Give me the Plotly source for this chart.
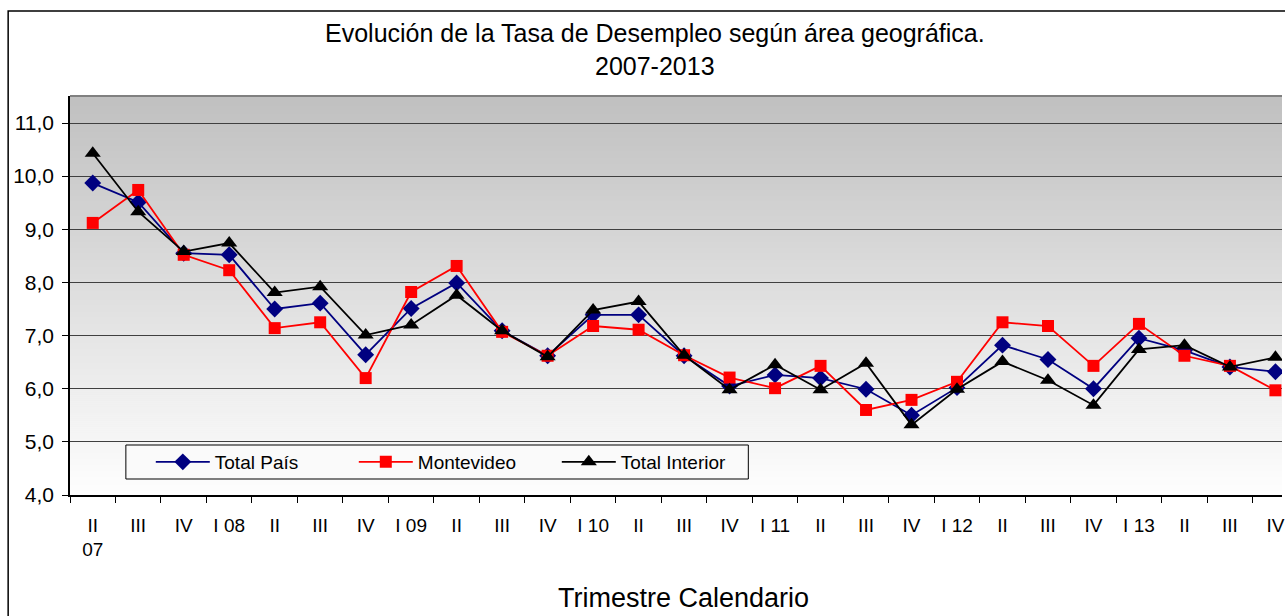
import plotly.graph_objects as go

categories = ["II<br>07", "III", "IV", "I 08", "II", "III", "IV", "I 09", "II", "III", "IV",
              "I 10", "II", "III", "IV", "I 11", "II", "III", "IV", "I 12", "II", "III", "IV",
              "I 13", "II", "III", "IV"]
cat_ids = list(range(len(categories)))

total_pais = [9.87, 9.51, 8.55, 8.52, 7.50, 7.61, 6.64, 7.51, 7.99, 7.09, 6.62, 7.39, 7.39, 6.62,
              6.05, 6.26, 6.20, 5.99, 5.50, 6.02, 6.82, 6.55, 6.00, 6.95, 6.72, 6.41, 6.32]
montevideo = [9.12, 9.74, 8.52, 8.23, 7.14, 7.25, 6.20, 7.82, 8.31, 7.07, 6.62, 7.18, 7.11, 6.63,
              6.21, 6.01, 6.43, 5.60, 5.79, 6.13, 7.25, 7.18, 6.43, 7.22, 6.62, 6.43, 5.97]
total_interior = [10.43, 9.33, 8.58, 8.74, 7.81, 7.92, 7.01, 7.20, 7.76, 7.09, 6.60, 7.48, 7.64, 6.63,
                  5.98, 6.45, 5.98, 6.48, 5.32, 5.99, 6.51, 6.16, 5.69, 6.74, 6.82, 6.41, 6.59]

series = [
    ("Total País", total_pais, "#000080", "diamond", 13, 1.8),
    ("Montevideo", montevideo, "#ff0000", "square", 12, 1.8),
    ("Total Interior", total_interior, "#000000", "triangle-up", 14, 1.8),
]

FONT = "Liberation Sans, Arial, sans-serif"
W, H = 1285, 616
L, R, T, B = 70, 0, 96, 121
PH = H - T - B

def py(pixel_y):
    return (H - B - pixel_y) / PH

def px(pixel_x):
    return (pixel_x - L) / (W - L - R)

fig = go.Figure()
for name, vals, color, sym, size, lw in series:
    fig.add_trace(go.Scatter(
        x=cat_ids, y=vals, name=name, mode="lines+markers",
        line=dict(color=color, width=lw),
        marker=dict(symbol=sym, size=size, color=color),
    ))

# gradient background of plot area
shapes = []
n = 200
top_c, bot_c = 192, 254
for i in range(n):
    c = int(round(top_c + (bot_c - top_c) * i / (n - 1)))
    shapes.append(dict(type="rect", xref="paper", yref="paper",
                       x0=0, x1=1, y0=1 - (i + 1.3) / n, y1=1 - i / n,
                       fillcolor=f"rgb({c},{c},{c})", line=dict(width=0), layer="below"))
# top border of plot area
shapes.append(dict(type="line", xref="paper", yref="paper", x0=0, x1=1, y0=1, y1=1,
                   line=dict(color="#808080", width=2), layer="above"))
# legend box
shapes.append(dict(type="rect", xref="paper", yref="paper",
                   x0=px(126), x1=px(750), y0=py(479), y1=py(445),
                   line=dict(color="#000000", width=1), fillcolor="#fafafa", layer="above"))
# outer chart frame
shapes.append(dict(type="rect", xref="paper", yref="paper",
                   x0=px(8), x1=px(1300), y0=py(11), y1=py(640),
                   line=dict(color="#000000", width=1.5), fillcolor="rgba(0,0,0,0)", layer="above"))

fig.update_layout(
    width=W, height=H,
    margin=dict(l=L, r=R, t=T, b=B),
    paper_bgcolor="white", plot_bgcolor="white",
    font=dict(family=FONT, size=19, color="black"),
    separators=", ",
    shapes=shapes,
    showlegend=True,
    legend=dict(orientation="h", x=px(151), y=py(462), xanchor="left", yanchor="middle",
                bgcolor="rgba(0,0,0,0)", borderwidth=0,
                font=dict(size=19, family=FONT), itemwidth=54,
                entrywidth=134, entrywidthmode="pixels", tracegroupgap=0),
    annotations=[
        dict(text="Evolución de la Tasa de Desempleo según área geográfica.", xref="paper", yref="paper",
             x=px(656), y=py(33), xanchor="center", yanchor="middle", showarrow=False,
             font=dict(size=25, family=FONT)),
        dict(text="2007-2013", xref="paper", yref="paper",
             x=px(656), y=py(66), xanchor="center", yanchor="middle", showarrow=False,
             font=dict(size=25, family=FONT)),
        dict(text="Trimestre Calendario", xref="paper", yref="paper",
             x=px(685), y=py(598), xanchor="center", yanchor="middle", showarrow=False,
             font=dict(size=27, family=FONT)),
    ],
)

fig.update_xaxes(
    tickmode="array", tickvals=cat_ids, ticktext=categories,
    range=[-0.5, -0.5 + (W - L - R) / 45.6],
    showgrid=False, zeroline=False,
    showline=True, linecolor="black", linewidth=1.5,
    ticks="", ticklabelstandoff=12, ticklabeloverflow="allow",
    minor=dict(tickvals=[i - 0.5 for i in cat_ids] + [26.5], ticks="outside", ticklen=6,
               tickcolor="black", showgrid=False),
    tickfont=dict(size=19, family=FONT),
)
fig.update_yaxes(
    range=[4, 11 + 27 / 53.14], tickvals=[4, 5, 6, 7, 8, 9, 10, 11], tickformat=".1f",
    showgrid=True, gridcolor="#404040", gridwidth=1, zeroline=False,
    showline=True, linecolor="black", linewidth=1.5,
    ticks="outside", ticklen=6, tickcolor="black", ticklabelstandoff=4,
    tickfont=dict(size=21, family=FONT),
)

fig.write_html("out.html", config={"displayModeBar": False},
               post_script="document.body.style.margin='0';document.body.style.overflow='hidden';")
